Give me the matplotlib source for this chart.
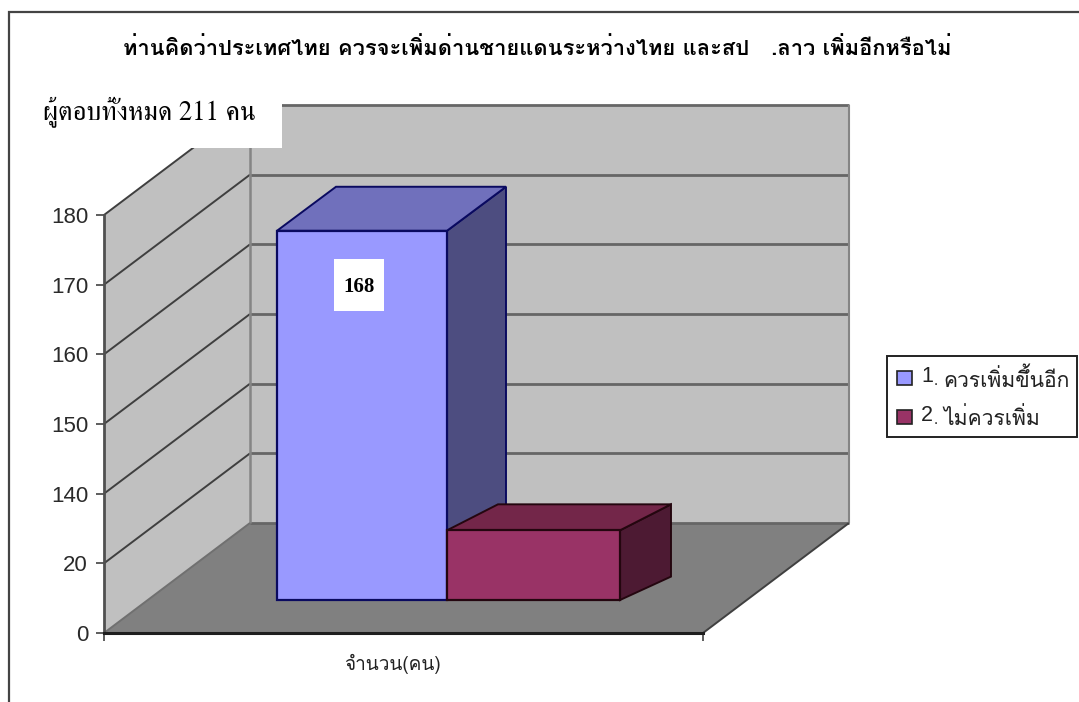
import numpy as np
import matplotlib
matplotlib.use('Agg')
import matplotlib.pyplot as plt
from matplotlib.patches import Polygon, Rectangle
from matplotlib.transforms import Affine2D, IdentityTransform

# ---- data ----
title_text = 'ท่านคิดว่าประเทศไทย ควรจะเพิ่มด่านชายแดนระหว่างไทย และสป   .ลาว เพิ่มอีกหรือไม่'
note_text = 'ผู้ตอบทั้งหมด 211 คน'
category_label = 'จำนวน(คน)'
tick_values = [0, 20, 140, 150, 160, 170, 180]
tick_labels = ['0', '20', '140', '150', '160', '170', '180']
series_names = ['ควรเพิ่มขึ้นอีก', 'ไม่ควรเพิ่ม']
series_numbers = ['1', '2']
series_values = [173, 20]
data_label = '168'

# ---- layout and styles ----
W, H = 1079, 702
THAI = ['Loma', 'Noto Sans Thai', 'DejaVu Sans']
ARIAL = ['Liberation Sans', 'DejaVu Sans']
bar_spans = [(0.2888, 0.5726), (0.5726, 0.8614)]
bar_faces = [('#9999FF', '#7070BC', '#4D4D80', '#0A0A60'),
             ('#993366', '#732649', '#4D1A33', '#24060F')]
bar_depths = [(59, 44), (51, 26)]
bar_lift = 33
wall_shift = (146, 110)

fig = plt.figure(figsize=(W / 100, H / 100), dpi=100, facecolor='white')
ax = fig.add_axes([104 / W, (H - 633) / H, 599 / W, 418 / H])
ax.patch.set_visible(False)
index = np.arange(len(tick_values), dtype=float)
ax.set_yscale('function', functions=(
    lambda v: np.interp(v, tick_values, index),
    lambda i: np.interp(i, index, tick_values)))
ax.set_xlim(0, 1)
ax.set_ylim(tick_values[0], tick_values[-1])
ax.set_autoscale_on(False)


def px(x, v, dx=0, dy=0):
    p = ax.transData.transform((x, v))
    return p[0] + dx, p[1] + dy


def poly(points, face, edge='none', lw=0, z=1):
    ax.add_patch(Polygon(points, closed=True, facecolor=face, edgecolor=edge,
                         linewidth=lw, transform=IdentityTransform(),
                         clip_on=False, zorder=z, joinstyle='miter'))


def seg(a, b, color, lw, z=2):
    ax.plot([a[0], b[0]], [a[1], b[1]], color=color, lw=lw,
            transform=IdentityTransform(), clip_on=False, zorder=z,
            solid_capstyle='butt')


sx, sy = wall_shift
v0, v1 = tick_values[0], tick_values[-1]
# walls and floor
poly([px(0, v0, sx, sy), px(1, v0, sx, sy), px(1, v1, sx, sy), px(0, v1, sx, sy)], '#C0C0C0')
poly([px(0, v0), px(0, v0, sx, sy), px(0, v1, sx, sy), px(0, v1)], '#C0C0C0')
poly([px(0, v0), px(1, v0), px(1, v0, sx, sy), px(0, v0, sx, sy)], '#808080')
# gridlines
for tv in tick_values:
    if tv != v0:
        seg(px(0, tv), px(0, tv, sx, sy), '#3F3F3F', 1.4)
    seg(px(0, tv, sx, sy), px(1, tv, sx, sy), '#666666', 2.0)
seg(px(0, v0, sx, sy), px(0, v1, sx, sy), '#858585', 1.8)
seg(px(1, v0, sx, sy), px(1, v1, sx, sy), '#858585', 1.5)
seg(px(0, v0), px(0, v0, sx, sy), '#707070', 1.4)
seg(px(1, v0), px(1, v0, sx, sy), '#404040', 1.4)

# bars, front to back ordering handled by zorder
lift = ax.transData + Affine2D().translate(0, bar_lift)
for i, (val, (x0, x1), (fc, tc, sc, ec), (dx, dy)) in enumerate(
        zip(series_values, bar_spans, bar_faces, bar_depths)):
    z = 5 + i * 3
    b, t = px(x1, v0, 0, bar_lift), px(x1, val, 0, bar_lift)
    tl = px(x0, val, 0, bar_lift)
    poly([b, t, (t[0] + dx, t[1] + dy), (b[0] + dx, b[1] + dy * 0.9)], sc, ec, 1.4, z)
    poly([tl, t, (t[0] + dx, t[1] + dy), (tl[0] + dx, tl[1] + dy)], tc, ec, 1.4, z)
    ax.bar((x0 + x1) / 2, val, width=x1 - x0, bottom=0, color=fc, edgecolor=ec,
           linewidth=1.6, transform=lift, clip_on=False, zorder=z + 1)

# axes
for name in ('top', 'right'):
    ax.spines[name].set_visible(False)
ax.spines['left'].set_color('#505050')
ax.spines['left'].set_linewidth(2.0)
ax.spines['bottom'].set_color('#1E1E1E')
ax.spines['bottom'].set_linewidth(2.2)
ax.spines['left'].set_zorder(3)
ax.spines['bottom'].set_zorder(3)
ax.set_yticks(tick_values, tick_labels, fontfamily=ARIAL, fontsize=16, color='#2A2A2A')
ax.yaxis.set_minor_locator(matplotlib.ticker.NullLocator())
ax.tick_params(axis='y', length=5.5, width=1.3, color='#505050', pad=6)
ax.set_xticks([0.4815], [category_label], fontfamily=THAI, fontsize=13.7, color='#222222')
ax.set_xticks([0, 1], minor=True)
ax.tick_params(axis='x', which='major', length=0, pad=15)
ax.tick_params(axis='x', which='minor', length=5.5, width=1.3, color='#505050')


def ftext(x, y, s, **kw):
    kw.setdefault('va', 'center')
    return fig.text(x / W, 1 - y / H, s, **kw)


def frect(x0, y0, x1, y1, **kw):
    fig.add_artist(Rectangle((x0 / W, 1 - y1 / H), (x1 - x0) / W, (y1 - y0) / H,
                             transform=fig.transFigure, **kw))


# frame
fig.add_artist(plt.Line2D([8.5 / W, 8.5 / W, 1], [0, 1 - 12 / H, 1 - 12 / H],
                          color='#444444', lw=1.6, transform=fig.transFigure,
                          solid_joinstyle='miter'))

# title
ftext(537, 48, title_text, fontfamily=THAI, fontweight='bold', fontsize=15.8,
      ha='center', color='black')

# white note patch
frect(22, 80, 282, 148, facecolor='white', edgecolor='none', zorder=20)
ftext(43, 112, note_text, fontfamily=['FreeSerif', 'Liberation Serif'], fontsize=19.3,
      color='black', zorder=21)

# data label patch
frect(334, 259, 384, 311, facecolor='white', edgecolor='none', zorder=20)
ftext(359, 287, data_label, fontfamily=['Liberation Serif'], fontweight='bold',
      fontsize=15, ha='center', color='black', zorder=21)

# legend
frect(887, 356, 1077, 437, facecolor='white', edgecolor='#222222', linewidth=1.4, zorder=20)
for row, (num, name, faces) in enumerate(zip(series_numbers, series_names, bar_faces)):
    yc = 378 + row * 39
    frect(897, yc - 7, 912, yc + 7, facecolor=faces[0], edgecolor='#222222',
          linewidth=1.2, zorder=21)
    ftext(921, yc - 2, num, fontfamily=ARIAL, fontsize=15.5, color='#222222', zorder=21)
    ftext(934, yc + 3, '.', fontfamily=ARIAL, fontsize=11, color='#222222', zorder=21)
    ftext(943, yc + 1, name, fontfamily=THAI, fontsize=15.2, color='#222222', zorder=21)

fig.savefig('out.png', dpi=100)
